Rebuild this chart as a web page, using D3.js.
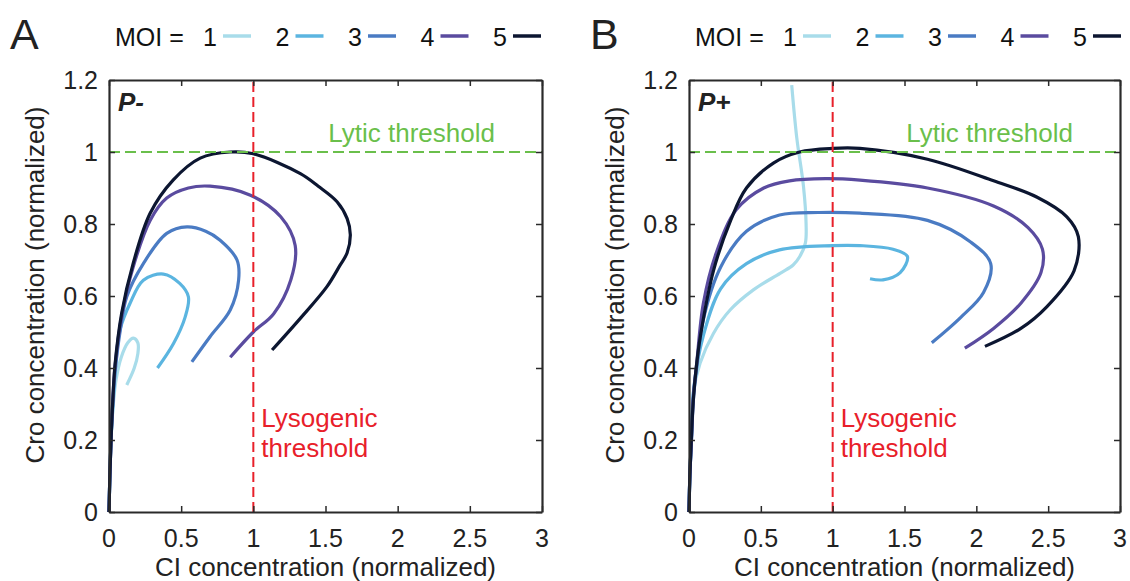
<!DOCTYPE html>
<html>
<head>
<meta charset="utf-8">
<script src="https://cdn.jsdelivr.net/npm/d3@7"></script>
<style>
	body { margin: 0; background: #fff; }
	svg { display: block; font-family: "Liberation Sans", Arial, sans-serif; }
	.tick-label { font-size: 25px; fill: #222; }
	.axis-label { font-size: 26px; fill: #222; }
</style>
</head>
<body>
<svg id="chart" width="1130" height="581"></svg>
<script>
// legend / series names
var moiLevels = [ 1, 2, 3, 4, 5 ];
var moiColors = [ '#a8dcea', '#5bb5e0', '#4a7bc3', '#5a4b9f', '#0c1631' ];

// tick values
var xTicks = [ 0, 0.5, 1, 1.5, 2, 2.5, 3 ];
var yTicks = [ 0, 0.2, 0.4, 0.6, 0.8, 1, 1.2 ];

// thresholds
var lyticThreshold = 1;
var lysogenicThreshold = 1;

// trajectories without P (CI, Cro), one per MOI
var pMinus1 = [ [0,0],[0.006,0.1],[0.014,0.2],[0.03,0.3],[0.05,0.37],[0.085,0.43],[0.13,0.47],[0.169,0.483],[0.2,0.47],[0.2,0.44],[0.175,0.4],[0.123,0.353] ];
var pMinus2 = [ [0,0],[0.006,0.1],[0.014,0.2],[0.028,0.3],[0.045,0.4],[0.076,0.506],[0.146,0.58],[0.238,0.644],[0.377,0.661],[0.49,0.635],[0.55,0.598],[0.528,0.542],[0.447,0.468],[0.336,0.4] ];
var pMinus3 = [ [0,0],[0.006,0.1],[0.014,0.2],[0.026,0.3],[0.042,0.39],[0.08,0.51],[0.123,0.598],[0.238,0.69],[0.4,0.774],[0.54,0.792],[0.67,0.78],[0.77,0.755],[0.887,0.7],[0.898,0.644],[0.84,0.561],[0.7,0.487],[0.574,0.417] ];
var pMinus4 = [ [0,0],[0.006,0.1],[0.014,0.2],[0.025,0.3],[0.042,0.405],[0.088,0.545],[0.167,0.68],[0.285,0.81],[0.4,0.872],[0.55,0.9],[0.7,0.905],[0.98,0.88],[1.19,0.82],[1.29,0.74],[1.26,0.645],[1.14,0.55],[1.0,0.5],[0.84,0.43] ];
var pMinus5 = [ [0,0],[0.006,0.1],[0.014,0.2],[0.025,0.3],[0.042,0.41],[0.088,0.553],[0.167,0.69],[0.285,0.83],[0.444,0.922],[0.632,0.983],[0.84,1.0],[1.0,0.995],[1.326,0.94],[1.45,0.905],[1.58,0.862],[1.65,0.815],[1.672,0.77],[1.65,0.72],[1.6,0.685],[1.51,0.626],[1.33,0.54],[1.13,0.45] ];

// trajectories with P (CI, Cro), one per MOI
var pPlus1 = [ [0,0],[0.006,0.1],[0.016,0.2],[0.03,0.33],[0.077,0.413],[0.17,0.496],[0.286,0.561],[0.448,0.617],[0.634,0.663],[0.725,0.686],[0.77,0.709],[0.81,0.747],[0.815,0.8],[0.797,0.904],[0.75,1.04],[0.715,1.186] ];
var pPlus2 = [ [0,0],[0.006,0.1],[0.017,0.2],[0.035,0.35],[0.1,0.49],[0.22,0.62],[0.4,0.69],[0.63,0.728],[1.0,0.74],[1.19,0.74],[1.42,0.73],[1.52,0.71],[1.47,0.665],[1.35,0.645],[1.26,0.648] ];
var pPlus3 = [ [0,0],[0.006,0.1],[0.017,0.2],[0.032,0.32],[0.053,0.4],[0.1,0.535],[0.22,0.68],[0.4,0.78],[0.63,0.825],[0.9,0.832],[1.19,0.83],[1.66,0.81],[1.96,0.75],[2.1,0.69],[2.05,0.61],[1.89,0.54],[1.69,0.47] ];
var pPlus4 = [ [0,0],[0.006,0.1],[0.017,0.2],[0.03,0.32],[0.053,0.41],[0.1,0.58],[0.19,0.72],[0.33,0.84],[0.52,0.9],[0.7,0.92],[0.95,0.926],[1.19,0.922],[1.66,0.9],[2.12,0.85],[2.36,0.79],[2.46,0.73],[2.45,0.665],[2.31,0.58],[2.12,0.51],[1.92,0.455] ];
var pPlus5 = [ [0,0],[0.006,0.1],[0.016,0.2],[0.03,0.31],[0.05,0.4],[0.08,0.49],[0.17,0.67],[0.29,0.81],[0.4,0.9],[0.59,0.97],[0.77,1.0],[1.0,1.01],[1.19,1.01],[1.66,0.98],[2.12,0.92],[2.42,0.875],[2.63,0.82],[2.71,0.765],[2.68,0.67],[2.49,0.57],[2.31,0.51],[2.06,0.46] ];

var svg = d3.select('svg#chart');
svg.append('rect').attr('width', 1130).attr('height', 581).attr('fill', '#fff');

// one panel: axes box, thresholds, trajectories, labels
function drawPanel(left, width, letter, tag, curves) {
	var top = 80, bottom = 512;
	var x = d3.scaleLinear().domain([ 0, 3 ]).range([ left, left + width ]);
	var y = d3.scaleLinear().domain([ 0, 1.2 ]).range([ bottom, top ]);
	var g = svg.append('g');

	// trajectories
	var line = d3.line().x(function(d) {
		return x(d[0]);
	}).y(function(d) {
		return y(d[1]);
	}).curve(d3.curveCatmullRom.alpha(0.5));

	g.selectAll('path.traj').data(curves).enter().append('path')
			.attr('class', 'traj').attr('d', line).attr('fill', 'none')
			.attr('stroke', function(d, i) {
				return moiColors[i];
			}).attr('stroke-width', 3.2).attr('stroke-linecap', 'butt');

	// threshold lines
	g.append('line').attr('x1', x(0)).attr('x2', x(3)).attr('y1',
			y(lyticThreshold)).attr('y2', y(lyticThreshold)).attr('stroke',
			'#6abf4b').attr('stroke-width', 2).attr('stroke-dasharray', '11,5');
	g.append('line').attr('x1', x(lysogenicThreshold)).attr('x2',
			x(lysogenicThreshold)).attr('y1', y(0)).attr('y2', y(1.2)).attr(
			'stroke', '#e8202a').attr('stroke-width', 2).attr(
			'stroke-dasharray', '10,5');

	// axes box with inward ticks on all sides
	var frame = g.append('g');
	frame.append('g').attr('transform', 'translate(0,' + bottom + ')').call(
			d3.axisBottom(x).tickValues(xTicks).tickSizeInner(-6)
					.tickSizeOuter(0).tickFormat(''));
	frame.append('g').attr('transform', 'translate(0,' + top + ')').call(
			d3.axisTop(x).tickValues(xTicks).tickSizeInner(-6)
					.tickSizeOuter(0).tickFormat(''));
	frame.append('g').attr('transform', 'translate(' + left + ',0)').call(
			d3.axisLeft(y).tickValues(yTicks).tickSizeInner(-6)
					.tickSizeOuter(0).tickFormat(''));
	frame.append('g').attr('transform', 'translate(' + (left + width) + ',0)')
			.call(d3.axisRight(y).tickValues(yTicks).tickSizeInner(-6)
					.tickSizeOuter(0).tickFormat(''));
	frame.selectAll('.domain').attr('stroke', '#2a2a2a').attr('stroke-width', 2.2);
	frame.selectAll('.tick line').attr('stroke', '#2a2a2a').attr('stroke-width', 1.5);

	// tick labels
	g.selectAll('text.xt').data(xTicks).enter().append('text').attr('class',
			'tick-label').attr('x', function(d) {
		return x(d);
	}).attr('y', bottom + 35).attr('text-anchor', 'middle').text(function(d) {
		return d;
	});
	g.selectAll('text.yt').data(yTicks).enter().append('text').attr('class',
			'tick-label').attr('x', left - 11).attr('y', function(d) {
		return y(d) + 9;
	}).attr('text-anchor', 'end').text(function(d) {
		return d;
	});

	// axis titles
	g.append('text').attr('class', 'axis-label').attr('x', left + width / 2)
			.attr('y', 576).attr('text-anchor', 'middle').text(
					'CI concentration (normalized)');
	g.append('text').attr('class', 'axis-label').attr('transform',
			'translate(' + (left - 65) + ',' + 285 + ') rotate(-90)').attr(
			'text-anchor', 'middle').text('Cro concentration (normalized)');

	// annotations
	g.append('text').attr('x', left + 9).attr('y', 111).attr('font-size', 26)
			.attr('font-weight', 'bold').attr('font-style', 'italic').attr(
					'fill', '#222').text(tag);
	g.append('text').attr('x', x(3) - 47).attr('y', 142).attr('font-size', 26)
			.attr('text-anchor', 'end').attr('fill', '#6abf4b').text(
					'Lytic threshold');
	g.append('text').attr('x', x(lysogenicThreshold) + 8).attr('y', 427).attr(
			'font-size', 26).attr('fill', '#e8202a').text('Lysogenic');
	g.append('text').attr('x', x(lysogenicThreshold) + 8).attr('y', 457).attr(
			'font-size', 26).attr('fill', '#e8202a').text('threshold');

	// panel letter and legend
	g.append('text').attr('x', left - 99).attr('y', 49).attr('font-size', 43)
			.attr('fill', '#222').text(letter);
	g.append('text').attr('x', left + 6).attr('y', 46).attr('font-size', 25)
			.attr('fill', '#111').text('MOI =');
	var items = g.selectAll('g.leg').data(moiLevels).enter().append('g')
			.attr('transform', function(d, i) {
				return 'translate(' + (left + 94 + 72.5 * i) + ',0)';
			});
	items.append('text').attr('x', 0).attr('y', 46).attr('font-size', 25)
			.attr('fill', '#111').text(function(d) {
				return d;
			});
	items.append('line').attr('x1', 20).attr('x2', 48).attr('y1', 36).attr(
			'y2', 36).attr('stroke', function(d, i) {
		return moiColors[i];
	}).attr('stroke-width', 3.5);
}

drawPanel(109, 433, 'A', 'P-', [ pMinus1, pMinus2, pMinus3, pMinus4, pMinus5 ]);
drawPanel(689, 431, 'B', 'P+', [ pPlus1, pPlus2, pPlus3, pPlus4, pPlus5 ]);
</script>
</body>
</html>
